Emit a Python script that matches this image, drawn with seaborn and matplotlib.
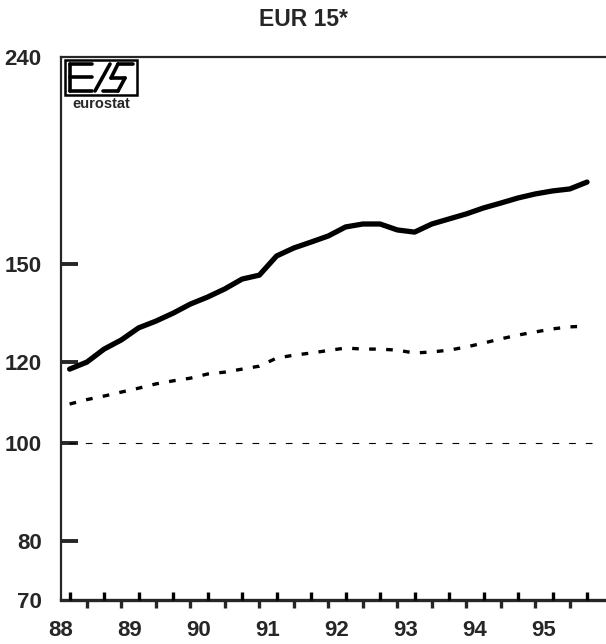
import numpy as np
import pandas as pd
import matplotlib
matplotlib.use("Agg")
import matplotlib.pyplot as plt
import matplotlib.ticker as mticker
import matplotlib.transforms as mtransforms
from matplotlib.patches import Rectangle
from matplotlib.lines import Line2D
import seaborn as sns

# quarterly points, 88 Q1 .. 95 Q3 (plotted mid-quarter)
quarters = [88.125 + 0.25 * i for i in range(31)]
upper = [118.2, 120.1, 123.7, 126.3, 129.8, 131.8, 134.2, 137.0,
         139.2, 141.8, 145.0, 146.3, 152.8, 155.6, 157.7, 159.9,
         163.2, 164.3, 164.3, 162.1, 161.3, 164.3, 166.2, 168.1,
         170.4, 172.3, 174.3, 175.9, 177.1, 177.9, 180.7]
lower = [109.2, 110.3, 111.2, 112.2, 113.2, 114.3, 115.1, 115.8,
         116.9, 117.4, 118.2, 119.0, 121.2, 122.0, 122.6, 123.3,
         124.0, 123.7, 123.7, 123.4, 122.6, 122.9, 123.4, 124.3,
         125.4, 126.6, 127.7, 128.6, 129.5, 130.1, 130.3]
base_level = 100
years = [88, 89, 90, 91, 92, 93, 94, 95]
year_labels = ['88', '89', '90', '91', '92', '93', '94', '95']
y_ticks = [80, 100, 120, 150]
y_ends = [70, 240]

df = pd.DataFrame({'quarter': quarters, 'upper': upper, 'lower': lower})

sns.set_style("white")
plt.rcParams['font.family'] = ['Liberation Sans', 'DejaVu Sans']
plt.rcParams['font.weight'] = 'bold'

fig = plt.figure(figsize=(6.06, 6.44), dpi=100)
ax = fig.add_axes([61 / 606, 1 - 600 / 644, 1 - 61 / 606, (600 - 57) / 644])

sns.lineplot(data=df, x='quarter', y='upper', ax=ax, color='black',
             linewidth=3.8, solid_capstyle='round')
sns.lineplot(data=df, x='quarter', y='lower', ax=ax, color='black',
             linewidth=2.4, linestyle=(0, (2, 3.1)))
ax.hlines(base_level, quarters[0] - 0.25, quarters[-1] + 0.1, color='black',
          linewidth=0.8, linestyles=(0, (6, 9)))

ax.set_yscale('log')
ax.set_ylim(70, 240)
ax.set_xlim(88, 95.9)
ax.yaxis.set_major_locator(mticker.FixedLocator(y_ticks))
ax.yaxis.set_major_formatter(mticker.FixedFormatter([str(v) for v in y_ticks]))
ax.yaxis.set_minor_locator(mticker.FixedLocator(y_ends))
ax.yaxis.set_minor_formatter(mticker.FixedFormatter([str(v) for v in y_ends]))
ax.tick_params(axis='y', which='major', left=True, direction='in', length=12,
               width=2.8, pad=14, labelsize=16)
ax.tick_params(axis='y', which='minor', left=True, length=0, pad=14,
               labelsize=16)

# downward ticks on every other quarter
ax.xaxis.set_major_locator(mticker.FixedLocator(quarters[1::2]))
ax.xaxis.set_major_formatter(mticker.NullFormatter())
ax.xaxis.set_minor_locator(mticker.NullLocator())
ax.tick_params(axis='x', which='major', bottom=True, direction='out',
               length=5.5, width=2.4)

# upward ticks on the other quarters, drawn on the axis line
trans = mtransforms.blended_transform_factory(ax.transData, ax.transAxes)
up_q = quarters[0::2]
ax.plot(up_q, [0] * len(up_q), transform=trans, linestyle='none',
        marker=2, markersize=6, markeredgewidth=2.4, color='black',
        clip_on=False, zorder=5)

# year labels under the axis
for yr, lab in zip(years, year_labels):
    ax.text(yr, -0.056, lab, transform=trans, ha='center', va='center',
            fontsize=16, fontweight='bold', clip_on=False)

for lab in ax.get_yticklabels() + ax.get_yticklabels(minor=True):
    lab.set_fontweight('bold')

ax.spines['right'].set_visible(False)
ax.spines['left'].set_linewidth(1.6)
ax.spines['top'].set_linewidth(1.6)
ax.spines['bottom'].set_linewidth(2.4)
ax.set_xlabel('')
ax.set_ylabel('')

fig.text(303 / 606, 1 - 20 / 644, 'EUR 15*', ha='center', va='center',
         fontsize=16.5, fontweight='bold')

# eurostat logo
def fx(px):
    return px / 606

def fy(py):
    return 1 - py / 644

fig.patches.append(Rectangle((fx(65), fy(95)), fx(72), 35 / 644, fill=False,
                             edgecolor='black', linewidth=1.8,
                             transform=fig.transFigure))
logo_lines = [
    [(70, 64), (70, 91)], [(70, 64), (92, 64)], [(70, 77), (92, 77)],
    [(70, 91), (92, 91)], [(95, 91), (110, 64)], [(118, 64), (133, 64)],
    [(118, 64), (111, 78)], [(111, 78), (125, 78)], [(125, 78), (118, 91)],
    [(103, 91), (118, 91)],
]
for (x0, y0), (x1, y1) in logo_lines:
    fig.lines.append(Line2D([fx(x0), fx(x1)], [fy(y0), fy(y1)],
                            color='black', linewidth=2.6,
                            transform=fig.transFigure))
fig.text(fx(101), fy(104), 'eurostat', ha='center', va='center',
         fontsize=10.5, fontweight='bold')

fig.savefig('out.png', dpi=100)
